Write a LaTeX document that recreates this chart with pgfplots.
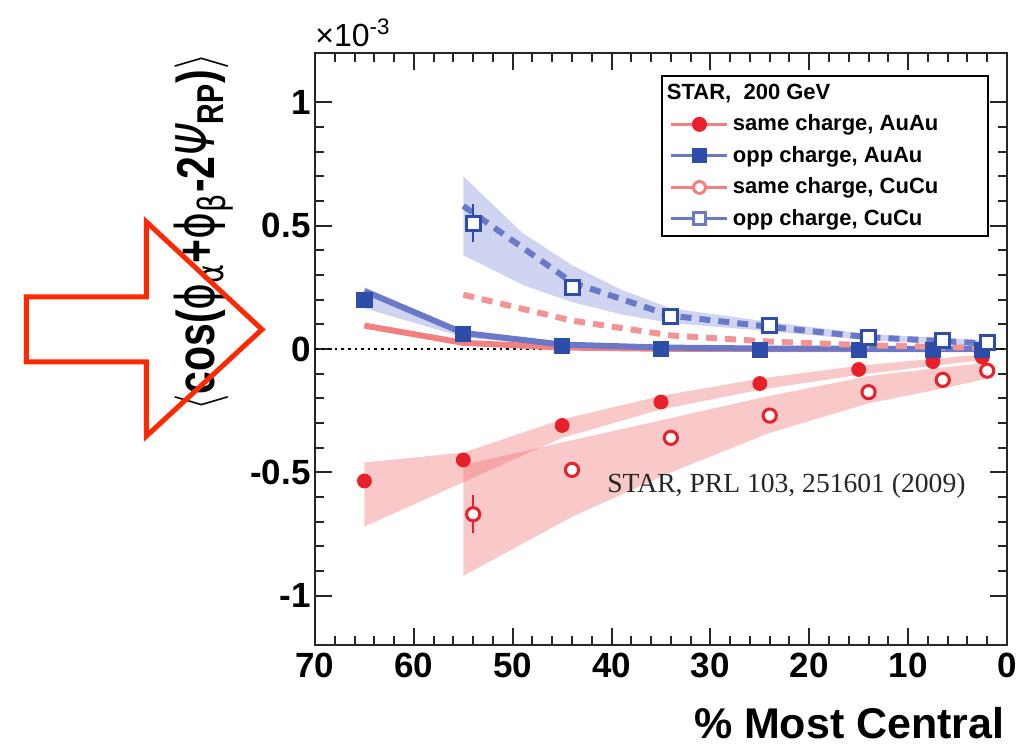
\documentclass[border=0pt]{standalone}
\usepackage{fontspec}
\setmainfont{Liberation Sans}
\newfontfamily\rootfont{Liberation Sans}
\newfontfamily\greekfont{DejaVu Sans}
\newfontfamily\timesfont{Liberation Serif}
\usepackage{graphicx}
\usepackage{pgfplots}
\pgfplotsset{compat=1.18}

\definecolor{markred}{RGB}{232,32,42}
\definecolor{markblue}{RGB}{46,77,168}
\definecolor{linered}{RGB}{242,128,128}
\definecolor{lineblue}{RGB}{106,120,200}
\definecolor{bandred}{RGB}{240,110,110}
\definecolor{bandblue}{RGB}{130,145,215}
\definecolor{arrowred}{RGB}{255,40,0}

\newcommand{\tickfont}{\rootfont\bfseries\fontsize{17.5}{20}\selectfont}

\begin{document}
\begin{tikzpicture}
\useasboundingbox (-157.5pt,-50pt) rectangle (357pt,322.5pt);
\begin{axis}[
    scale only axis, width=346pt, height=296pt,
    x dir=reverse,
    xmin=0, xmax=70, ymin=-1.2, ymax=1.2,
    xtick={0,10,20,30,40,50,60,70},
    xticklabels={0,10,20,30,40,50,60,70},
    ytick={-1,-0.5,0,0.5,1},
    yticklabels={-1,-0.5,0,0.5,1},
    minor x tick num=4, minor y tick num=4,
    tick align=inside, tick pos=both,
    major tick length=8.5pt, minor tick length=4.5pt,
    every tick/.style={black!85, line width=1pt},
    axis line style={black!85, line width=1.2pt},
    ticklabel style={font=\tickfont},
    xticklabel style={inner sep=1pt, yshift=-3pt},
    yticklabel style={inner sep=2pt},
    legend style={at={(rel axis cs:0.5,0.963)}, anchor=north west,
        draw=black, line width=1pt, fill=white,
        font=\rootfont\bfseries\fontsize{11}{13}\selectfont,
        inner xsep=4pt, inner ysep=2pt, row sep=2.3pt},
    legend cell align=left,
    legend image code/.code={\draw[#1,mark repeat=2,mark phase=2]
        plot coordinates {(0pt,0pt) (14pt,0pt) (28pt,0pt)};},
]
% legend
\addlegendimage{empty legend}
\addlegendentry{\hspace*{-33pt}STAR,\ \ 200 GeV}
\addlegendimage{linered, line width=1.5pt, mark=*, mark size=3pt, mark options={solid, fill=markred, draw=markred}}
\addlegendentry{same charge, AuAu}
\addlegendimage{lineblue, line width=1.5pt, mark=square*, mark size=3pt, mark options={solid, fill=markblue, draw=markblue}}
\addlegendentry{opp charge, AuAu}
\addlegendimage{linered, line width=1.5pt, mark=*, mark size=3pt, mark options={solid, fill=white, draw=linered}}
\addlegendentry{same charge, CuCu\hspace*{19pt}}
\addlegendimage{lineblue, line width=1.5pt, mark=square*, mark size=3pt, mark options={solid, fill=white, draw=lineblue}}
\addlegendentry{opp charge, CuCu}

% zero line
\addplot[black, dotted, line width=1.3pt, forget plot] coordinates {(70,0) (0,0)};

% systematic bands
\addplot[fill=bandred, fill opacity=0.38, draw=none, forget plot] coordinates {
    (65,-0.46) (55,-0.42) (45,-0.285) (35,-0.19) (25,-0.12) (15,-0.068) (7.5,-0.04) (2.5,-0.022)
    (2.5,-0.045) (7.5,-0.068) (15,-0.105) (25,-0.165) (35,-0.245) (45,-0.36) (55,-0.54) (65,-0.72)
} --cycle;
\addplot[fill=bandred, fill opacity=0.38, draw=none, forget plot] coordinates {
    (55,-0.47) (44,-0.37) (34,-0.28) (24,-0.19) (14,-0.11) (6.5,-0.075) (2,-0.055)
    (2,-0.12) (6.5,-0.16) (14,-0.22) (24,-0.34) (34,-0.50) (44,-0.68) (55,-0.92)
} --cycle;
\addplot[fill=bandblue, fill opacity=0.38, draw=none, forget plot] coordinates {
    (55,0.70) (49,0.47) (44,0.34) (39,0.24) (34,0.165) (24,0.11) (14,0.06) (6.5,0.045) (2,0.035)
    (2,0.012) (6.5,0.022) (14,0.035) (24,0.072) (34,0.105) (39,0.14) (44,0.19) (49,0.26) (55,0.38)
} --cycle;
\addplot[fill=bandblue, fill opacity=0.38, draw=none, forget plot] coordinates {
    (65,0.25) (55,0.075) (45,0.022) (40,0.012)
    (40,0.004) (45,0.008) (55,0.048) (65,0.165)
} --cycle;

% fit lines
\addplot[linered, line width=3pt, forget plot] coordinates {
    (65,0.095) (55,0.025) (45,0.006) (35,0.001) (25,0) (15,0) (2.5,0)};
\addplot[lineblue, line width=3pt, forget plot] coordinates {
    (65,0.235) (55,0.065) (45,0.018) (35,0.006) (25,0.002) (15,0.001) (2.5,0)};
\addplot[linered!85, line width=3pt, dash pattern=on 5.5pt off 4pt, forget plot] coordinates {
    (55,0.22) (44,0.115) (34,0.055) (24,0.03) (14,0.015) (6.5,0.008) (2,0.005)};
\addplot[lineblue, line width=3pt, dash pattern=on 5.5pt off 4pt, forget plot] coordinates {
    (55,0.58) (44,0.27) (34,0.135) (24,0.09) (14,0.048) (6.5,0.032) (2,0.022)};

% data points
\addplot[only marks, mark=*, mark size=3.5pt, mark options={fill=markred, draw=markred}, forget plot]
    coordinates {(65,-0.535) (55,-0.45) (45,-0.31) (35,-0.215) (25,-0.14) (15,-0.083) (7.5,-0.051) (2.5,-0.033)};
\addplot[only marks, mark=square*, mark size=3.8pt, mark options={fill=markblue, draw=markblue}, forget plot]
    coordinates {(65,0.20) (55,0.06) (45,0.014) (35,0.0) (25,-0.004) (15,-0.004) (7.5,-0.004) (2.5,-0.004)};
\addplot[only marks, mark=*, mark size=3.3pt, mark options={fill=white, draw=markred, line width=1.5pt},
    error bars/.cd, y dir=both, y explicit, error mark=-, error bar style={markred, line width=1.2pt},
    error mark options={markred, line width=1.2pt, mark size=2pt}]
    coordinates {(54,-0.67) +- (0,0.06) (44,-0.49) +- (0,0) (34,-0.36) +- (0,0) (24,-0.27) +- (0,0)
                 (14,-0.175) +- (0,0) (6.5,-0.125) +- (0,0) (2,-0.088) +- (0,0)};
\addplot[only marks, mark=square*, mark size=3.5pt, mark options={fill=white, draw=markblue, line width=1.5pt},
    error bars/.cd, y dir=both, y explicit, error mark=-, error bar style={markblue, line width=1.2pt},
    error mark options={markblue, line width=1.2pt, mark size=2pt}]
    coordinates {(54,0.51) +- (0,0.06) (44,0.25) +- (0,0) (34,0.13) +- (0,0) (24,0.095) +- (0,0)
                 (14,0.045) +- (0,0) (6.5,0.033) +- (0,0) (2,0.025) +- (0,0)};
\end{axis}

% axis titles and annotations
\node[anchor=base west, inner sep=0pt] at (0pt,299pt)
    {\rootfont\fontsize{16}{18}\selectfont ×10\textsuperscript{-3}};
\node[anchor=base east, inner sep=0pt] at (345pt,-46.5pt)
    {\rootfont\bfseries\fontsize{21.5}{24}\selectfont \% Most Central};
\node[rotate=90, anchor=base east, inner sep=0pt] at (-50pt,296pt)
    {\scalebox{1}[1.3]{\rootfont\bfseries\fontsize{20.5}{24}\selectfont
     $\big\langle$cos({\greekfont\mdseries ϕ}\textsubscript{\greekfont\mdseries α}+{\greekfont\mdseries ϕ}\textsubscript{\greekfont\mdseries β}-2{\greekfont\mdseries\itshape Ψ}\textsubscript{RP})$\big\rangle$}};
\node[anchor=base west, inner sep=0pt, text=black!85] at (146pt,76.5pt)
    {\timesfont\fontsize{13.8}{16}\selectfont STAR, PRL 103, 251601 (2009)};

\draw[arrowred, line width=2.5pt, line join=miter]
    (-144.25pt,174pt) -- (-84.25pt,174pt) -- (-84.25pt,211.5pt) -- (-26.5pt,157.75pt)
    -- (-84.25pt,104.5pt) -- (-84.25pt,141.5pt) -- (-144.25pt,141.5pt) -- cycle;
\end{tikzpicture}
\end{document}
